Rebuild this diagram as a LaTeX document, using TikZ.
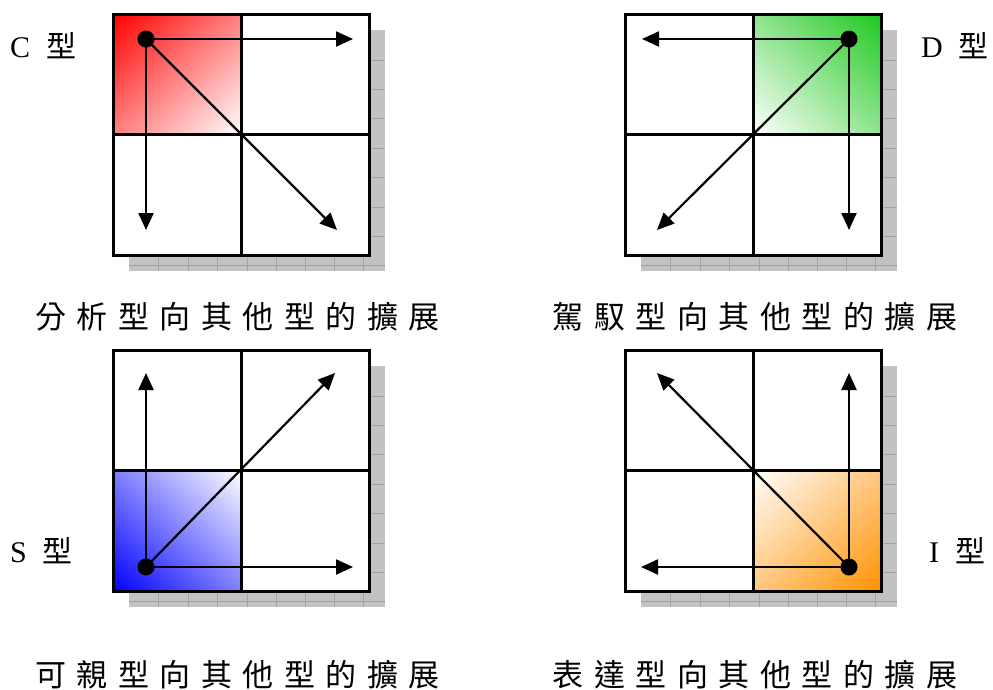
\documentclass[tikz,border=0pt]{standalone}
\usepackage{fontspec}
\setmainfont{Liberation Serif}
\newfontfamily\cjk{Noto Sans CJK TC}
\usetikzlibrary{arrows.meta,shadings}
\definecolor{dgreen}{RGB}{30,200,30}
\definecolor{dorange}{RGB}{255,145,0}
\newcommand\gapx{\hspace{10.5pt}}
\tikzset{
  boxline/.style={line width=3pt},
  arr/.style={line width=2.2pt, -{Triangle[length=17pt,width=15pt]}},
  dotnode/.style={circle, fill=black, inner sep=0pt, minimum size=17pt},
  shadowfill/.style={fill=black!24},
  shadowgrid/.style={draw=black!36, line width=0.7pt},
  lbl/.style={font=\fontsize{30}{36}\selectfont, inner sep=0pt, anchor=base west},
  captext/.style={font=\fontsize{31}{36}\selectfont\cjk, inner sep=0pt, anchor=base},
}
\newcommand\panelbase{%
  \fill[shadowfill] (16,16) rectangle (272,257);
  \foreach \gx in {45,75,104,134,163,192,221,250} \draw[shadowgrid] (\gx,16) -- (\gx,257);
  \foreach \gy in {46,75,104,134,163,193,222,251} \draw[shadowgrid] (16,\gy) -- (272,\gy);
  \fill[white] (0,0) rectangle (256,241);
}
\newcommand\panelframe{%
  \draw[boxline] (0,0) rectangle (256,241);
  \draw[boxline] (128,0) -- (128,241);
  \draw[boxline] (0,120) -- (256,120);
}
\begin{document}
\begin{tikzpicture}[x=1pt,y=-1pt]
\useasboundingbox (0,0) rectangle (993,689);

% ---- C panel ----
\begin{scope}[shift={(113,14)}]
  \panelbase
  \shade[upper left=red, upper right=red!50!white, lower left=red!50!white, lower right=white] (0,0) rectangle (128,120);
  \panelframe
  \node[dotnode] (cdot) at (33,25) {};
  \coordinate (cr) at (240,25);
  \coordinate (cd) at (33,216);
  \coordinate (cx) at (224,216);
  \draw[arr] (cdot.center) -- (cr);
  \draw[arr] (cdot.center) -- (cd);
  \draw[arr] (cdot.center) -- (cx);
\end{scope}

% ---- D panel ----
\begin{scope}[shift={(625,14)}]
  \panelbase
  \shade[upper right=dgreen, upper left=dgreen!50!white, lower right=dgreen!50!white, lower left=white] (128,0) rectangle (256,120);
  \panelframe
  \node[dotnode] (ddot) at (224,25) {};
  \coordinate (dl) at (17,25);
  \coordinate (dd) at (224,216);
  \coordinate (dx) at (32,216);
  \draw[arr] (ddot.center) -- (dl);
  \draw[arr] (ddot.center) -- (dd);
  \draw[arr] (ddot.center) -- (dx);
\end{scope}

% ---- S panel ----
\begin{scope}[shift={(113,350)}]
  \panelbase
  \shade[lower left=blue, upper left=blue!50!white, lower right=blue!50!white, upper right=white] (0,120) rectangle (128,241);
  \panelframe
  \node[dotnode] (sdot) at (33,217) {};
  \coordinate (su) at (33,23);
  \coordinate (sr) at (240,217);
  \coordinate (sx) at (222,23);
  \draw[arr] (sdot.center) -- (su);
  \draw[arr] (sdot.center) -- (sr);
  \draw[arr] (sdot.center) -- (sx);
\end{scope}

% ---- I panel ----
\begin{scope}[shift={(625,350)}]
  \panelbase
  \shade[lower right=dorange, upper right=dorange!50!white, lower left=dorange!50!white, upper left=white] (128,120) rectangle (256,241);
  \panelframe
  \node[dotnode] (idot) at (224,217) {};
  \coordinate (iu) at (224,23);
  \coordinate (il) at (16,217);
  \coordinate (ix) at (32,23);
  \draw[arr] (idot.center) -- (iu);
  \draw[arr] (idot.center) -- (il);
  \draw[arr] (idot.center) -- (ix);
\end{scope}

% ---- type labels ----
\node[lbl] (lc) at (10,57) {C\hspace{16pt}{\cjk 型}};
\node[lbl] (ld) at (921,57) {D\hspace{16pt}{\cjk 型}};
\node[lbl] (ls) at (10,562) {S\hspace{16pt}{\cjk 型}};
\node[lbl] (li) at (929,562) {I\hspace{16pt}{\cjk 型}};

% ---- captions ----
\node[captext] (capc) at (237.5,328) {分\gapx 析\gapx 型\gapx 向\gapx 其\gapx 他\gapx 型\gapx 的\gapx 擴\gapx 展};
\node[captext] (capd) at (755,328) {駕\gapx 馭\gapx 型\gapx 向\gapx 其\gapx 他\gapx 型\gapx 的\gapx 擴\gapx 展};
\node[captext] (caps) at (237.5,686) {可\gapx 親\gapx 型\gapx 向\gapx 其\gapx 他\gapx 型\gapx 的\gapx 擴\gapx 展};
\node[captext] (capi) at (755,686) {表\gapx 達\gapx 型\gapx 向\gapx 其\gapx 他\gapx 型\gapx 的\gapx 擴\gapx 展};
\end{tikzpicture}
\end{document}
